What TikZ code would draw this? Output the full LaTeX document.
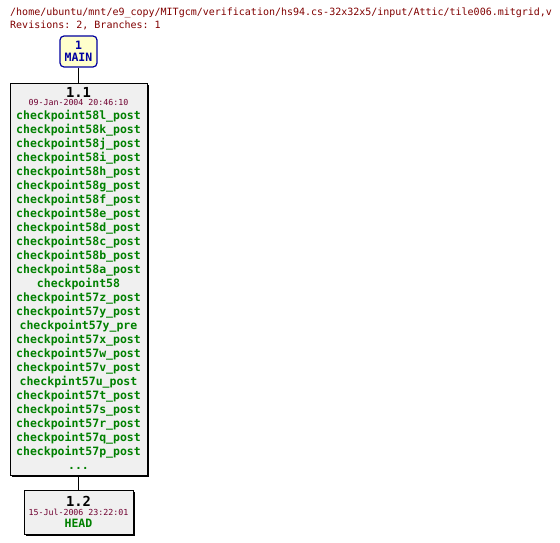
\documentclass[tikz,border=0pt]{standalone}
\usepackage{fontspec}
\setmonofont{DejaVu Sans Mono}
\usetikzlibrary{positioning,shadows}

\definecolor{hdrred}{RGB}{128,0,0}
\definecolor{datered}{RGB}{112,0,48}
\definecolor{taggreen}{RGB}{0,128,0}
\definecolor{boxgray}{RGB}{240,240,240}
\definecolor{mainblue}{RGB}{0,0,160}
\definecolor{mainfill}{RGB}{255,255,204}

\begin{document}
\begin{tikzpicture}[
  x=1pt, y=-1pt,
  font=\ttfamily,
  %% Box styles
  branchbox/.style = {draw=mainblue, fill=mainfill, rounded corners=4pt,
                      line width=1.2pt, minimum width=37pt, minimum height=31pt,
                      inner sep=0pt},
  revbox/.style    = {draw=black, fill=boxgray, line width=0.9pt, inner sep=0pt,
                      drop shadow={shadow xshift=1.6pt, shadow yshift=-1.6pt,
                                   opacity=1, fill=black}},
  hdr/.style       = {anchor=base west, inner sep=0pt, text=hdrred,
                      font=\ttfamily\fontsize{10}{12}\selectfont},
  revnum/.style    = {anchor=base, inner sep=0pt,
                      font=\ttfamily\bfseries\fontsize{13.8}{15}\selectfont},
  datelbl/.style   = {anchor=base, inner sep=0pt, text=datered,
                      font=\ttfamily\fontsize{8.3}{10}\selectfont},
  taglbl/.style    = {inner sep=0pt, text=taggreen, align=center,
                      font=\ttfamily\bfseries\fontsize{11.5}{14}\selectfont},
  link/.style      = {line width=0.8pt},
]
\useasboundingbox (0,0) rectangle (560,543);

%% ── Header ─────────────────────────────────────────────────────
\node[hdr] (path) at (10,16)
  {/home/ubuntu/mnt/e9\_copy/MITgcm/verification/hs94.cs-32x32x5/input/Attic/tile006.mitgrid,v};
\node[hdr] (revs) at (10,29) {Revisions: 2, Branches: 1};

%% ── Branch box ─────────────────────────────────────────────────
\node[branchbox] (main) at (78.5,51.5) {};
\node[taglbl, text=mainblue, anchor=base] (mainnum) at (78.5,49.5) {1};
\node[taglbl, text=mainblue, anchor=base] (mainname) at (78.5,62) {MAIN};

%% ── Revision 1.1 ───────────────────────────────────────────────
\node[revbox, minimum width=137pt, minimum height=392pt] (r11) at (78.5,279) {};
\node[revnum] (r11num) at (78.5,98) {1.1};
\node[datelbl] (r11date) at (78.5,106) {09-Jan-2004 20:46:10};
\node[taglbl, anchor=north] (r11tags) at (78.5,110) {%
  checkpoint58l\_post\\
  checkpoint58k\_post\\
  checkpoint58j\_post\\
  checkpoint58i\_post\\
  checkpoint58h\_post\\
  checkpoint58g\_post\\
  checkpoint58f\_post\\
  checkpoint58e\_post\\
  checkpoint58d\_post\\
  checkpoint58c\_post\\
  checkpoint58b\_post\\
  checkpoint58a\_post\\
  checkpoint58\\
  checkpoint57z\_post\\
  checkpoint57y\_post\\
  checkpoint57y\_pre\\
  checkpoint57x\_post\\
  checkpoint57w\_post\\
  checkpoint57v\_post\\
  checkpint57u\_post\\
  checkpoint57t\_post\\
  checkpoint57s\_post\\
  checkpoint57r\_post\\
  checkpoint57q\_post\\
  checkpoint57p\_post\\
  ...};

%% ── Revision 1.2 ───────────────────────────────────────────────
\node[revbox, minimum width=109pt, minimum height=44pt] (r12) at (78.5,512) {};
\node[revnum] (r12num) at (78.5,506) {1.2};
\node[datelbl] (r12date) at (78.5,515) {15-Jul-2006 23:22:01};
\node[taglbl, anchor=base] (r12tag) at (78.5,527) {HEAD};

%% ── Links ──────────────────────────────────────────────────────
\draw[link] (main.south) -- (r11.north);
\draw[link] (r11.south) -- (r12.north);

\end{tikzpicture}
\end{document}
